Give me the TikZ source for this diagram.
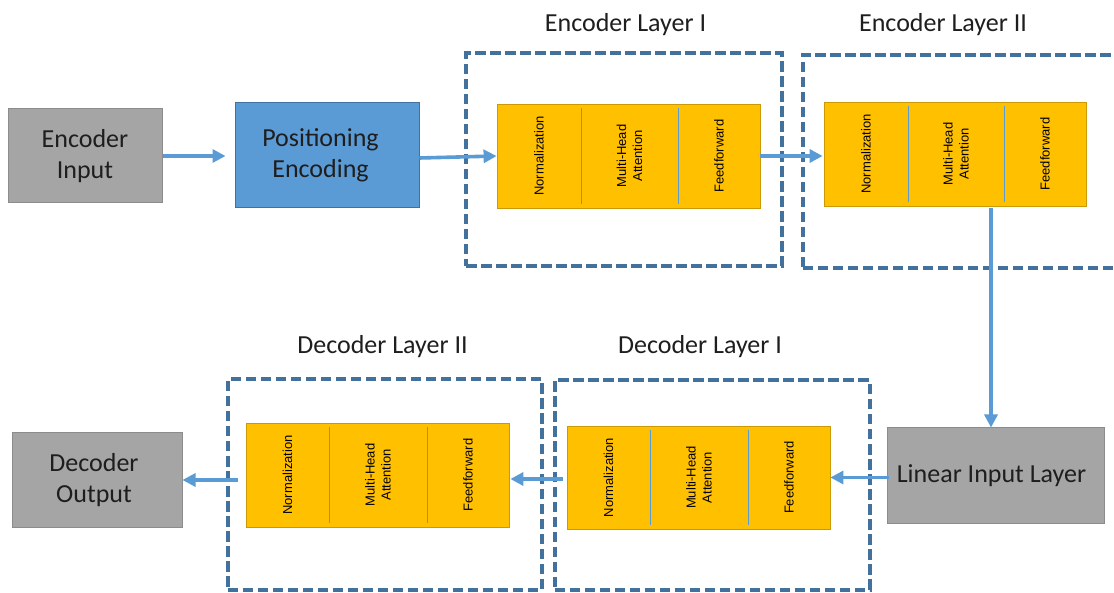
\documentclass[tikz,border=0pt]{standalone}
\usepackage{fontspec}
\setmainfont{Carlito}
\newfontfamily\labelfont{Liberation Sans}
\usetikzlibrary{arrows.meta,calc}

\definecolor{boxgray}{HTML}{A5A5A5}
\definecolor{boxgrayline}{HTML}{8C8C8C}
\definecolor{posblue}{HTML}{5B9BD5}
\definecolor{posblueline}{HTML}{41719C}
\definecolor{arrowblue}{HTML}{5B9BD5}
\definecolor{layerline}{HTML}{41719C}
\definecolor{blkfill}{HTML}{FFC000}
\definecolor{blkline}{HTML}{C99A06}
\definecolor{inktext}{HTML}{1E1E1E}

% One attention block: name, left, top, right, bottom, first divider, second divider
\newcommand\sublayers[7]{%
  \node[blockbox, minimum width={(#4)-(#2)}, minimum height={(#5)-(#3)}]
    (#1) at ({((#2)+(#4))/2},{((#3)+(#5))/2}) {};
  \draw[divider] (#6,{(#3)+4}) -- (#6,{(#5)-4});
  \draw[divider] (#7,{(#3)+4}) -- (#7,{(#5)-4});
  \node[sublabel] (#1-norm) at ({((#2)+(#6))/2},{((#3)+(#5))/2}) {Normalization};
  \node[sublabel] (#1-attn) at ({((#6)+(#7))/2},{((#3)+(#5))/2}) {Multi-Head\\Attention};
  \node[sublabel] (#1-ff)   at ({((#7)+(#4))/2},{((#3)+(#5))/2}) {Feedforward};
}

\begin{document}
\begin{tikzpicture}[x=1pt,y=-1pt,
  bigtext/.style={font=\fontsize{26pt}{31pt}\selectfont, text=inktext, align=center},
  graybox/.style={draw=boxgrayline, fill=boxgray, line width=1pt, inner sep=0pt, bigtext},
  posbox/.style={draw=posblueline, fill=posblue, line width=1pt, inner sep=0pt, bigtext},
  layerframe/.style={draw=layerline, line width=4pt, dash pattern=on 10.5pt off 4.5pt, inner sep=0pt},
  blockbox/.style={draw=blkline, fill=blkfill, line width=0.8pt, inner sep=0pt},
  divider/.style={draw=arrowblue, line width=0.9pt},
  sublabel/.style={font=\labelfont\fontsize{13pt}{16pt}\selectfont, rotate=90, align=center, text=black, inner sep=0pt},
  flow/.style={draw=arrowblue, line width=3.6pt, -{Triangle[length=13pt,width=13pt]}},
  title/.style={bigtext, anchor=base, inner sep=0pt}
]
\useasboundingbox (0,0) rectangle (1114,593);
\clip (0,0) rectangle (1114,593);
\fill[white] (0,0) rectangle (1114,593);

% dashed layer frames
\node[layerframe, minimum width=316, minimum height=212.5] (frameEncI)  at (624,159.75) {};
\node[layerframe, minimum width=332.5, minimum height=213] (frameEncII) at (968.75,161.5) {};
\node[layerframe, minimum width=314, minimum height=210.5] (frameDecII) at (384.5,484.75) {};
\node[layerframe, minimum width=315, minimum height=209] (frameDecI)  at (712,485) {};

% layer titles
\node[title] (titleEncI)  at (625.5,32) {Encoder Layer I};
\node[title] (titleEncII) at (943,32) {Encoder Layer II};
\node[title] (titleDecII) at (382.5,354) {Decoder Layer II};
\node[title] (titleDecI)  at (700,354) {Decoder Layer I};

% input / output boxes
\node[graybox, minimum width=154, minimum height=94] (encIn) at (85,156) {Encoder\\Input};
\node[posbox, minimum width=184, minimum height=105] (posEnc) at (327,155.5) {\hspace*{-13pt}Positioning\\\hspace*{-13pt}Encoding};
\node[graybox, minimum width=217, minimum height=95] (linIn) at (995.5,475.5) {\hspace*{-8pt}Linear Input Layer};
\node[graybox, minimum width=170, minimum height=94] (decOut) at (97,480) {\hspace*{-6pt}Decoder\\\hspace*{-6pt}Output};

% attention blocks
\sublayers{encA}{497}{104}{760}{208}{581}{678}
\sublayers{encB}{824}{102}{1086}{206}{908}{1004}
\sublayers{decA}{567}{426}{830}{529}{650}{748}
\sublayers{decB}{246}{423}{509}{527}{329}{427}

% data flow
\coordinate (drop) at ([xshift=-4.5pt]linIn.north);
\draw[flow, shorten >=9pt] (encIn.east) -- (encIn.east -| posEnc.west);
\draw[flow] ([yshift=-2.5pt]posEnc.east) -- (encA.west);
\draw[flow, shorten >=1pt] (encA.east) -- (encA.east -| encB.west);
\draw[flow, shorten <=2pt] (drop |- encB.south) -- (drop);
\draw[flow, shorten <=-2pt] ([yshift=-2pt]linIn.west) -- ([yshift=-2pt]linIn.west -| decA.east);
\draw[flow, shorten <=4pt, shorten >=1pt] ([yshift=-1.5pt]decA.west) -- ([yshift=-1.5pt]decA.west -| decB.east);
\draw[flow, shorten <=8pt] ([yshift=-5pt]decB.west) -- ([yshift=-5pt]decB.west -| decOut.east);
\end{tikzpicture}
\end{document}
